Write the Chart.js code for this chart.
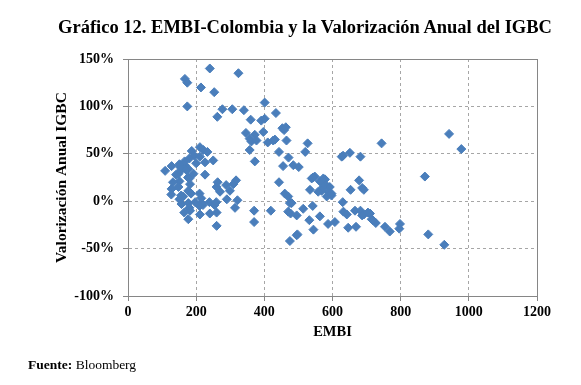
<!DOCTYPE html>
<html>
<head>
<meta charset="utf-8">
<script src="https://cdn.jsdelivr.net/npm/chart.js@4/dist/chart.umd.min.js"></script>
<style>
    body { margin: 0; background: #fff; }
    #wrap { position: relative; width: 581px; height: 385px; }
    #chartTitle {
        position: absolute; left: 0; top: 16px; width: 610px; text-align: center;
        font-family: "Liberation Serif", serif; font-weight: bold; font-size: 18.5px; line-height: 22px; color: #000;
    }
    #source {
        position: absolute; left: 28px; top: 357px;
        font-family: "Liberation Serif", serif; font-size: 13.5px; line-height: 16px; color: #000;
    }
</style>
</head>
<body>
<div id="wrap">
    <canvas id="embiChart" width="581" height="385"></canvas>
    <div id="chartTitle">Gráfico 12. EMBI-Colombia y la Valorización Anual del IGBC</div>
    <div id="source"><b>Fuente:</b> Bloomberg</div>
</div>
<script>
// EMBI (pb) and annual IGBC return (%)
const embi = [
    240, 324, 167, 174, 214, 253, 174, 277, 306, 262, 340, 401, 434, 360, 391, 401, 346, 357, 372, 362,
    377, 397, 410, 426, 431, 453, 458, 463, 465, 357, 443, 372, 471, 455, 485, 501,
    527, 520, 627, 631, 651, 682, 744, 942, 978, 871,
    187, 195, 211, 221, 233, 211, 250, 226, 109, 128, 153, 167, 177, 148, 192, 226, 200, 180, 166, 151,
    156, 171, 141, 176, 151, 180, 132, 128, 127, 148, 182, 177, 162, 156, 185, 151, 157, 177, 197, 216,
    210, 215, 220, 239, 254, 259, 180, 182, 177, 165, 211, 240, 260, 260, 210,
    260, 270, 299, 309, 317, 290, 321, 314, 263, 288, 370, 370, 419,
    443, 460, 470, 475, 477, 495, 475, 495, 470,
    539, 548, 563, 568, 578, 581, 573, 592, 587, 568, 583, 597, 597, 534, 558, 543, 573,
    653, 678, 692, 687,
    480, 514, 542, 532, 563, 544, 497,
    587, 607, 630, 632, 642, 646, 669, 666, 682, 692, 710, 715, 727, 754, 768, 798, 796, 687, 704, 718,
    881, 928
];
const valorizacion = [
    140, 135, 129, 125, 120, 115, 100, 97, 97, 89, 96, 104, 93, 86, 85, 87, 72, 66, 70, 63,
    64, 73, 62, 64, 65, 77, 75, 78, 64, 54, 52, 42, 46, 37, 38, 36,
    61, 52, 47, 48, 51, 47, 61, 71, 55, 26,
    53, 48, 57, 54, 52, 47, 43, 41, 32, 37, 36, 38, 34, 29, 29, 28, 40, 45, 42, 39,
    33, 33, 28, 25, 21, 24, 20, 13, 7, 15, 18, 11, 5, 6, 8, 2, -3, -2, -1, -2,
    8, 3, -4, -1, -4, -1, -7, -10, -19, -12, -14, -13, -12, -26, -5,
    15, 10, 11, 18, 22, 2, 1, -7, 20, 17, -10, -22, -10,
    20, 8, 5, -2, -13, -15, -42, -36, -11,
    24, 26, 21, 20, 23, 17, 15, 15, 10, 11, 5, 6, 8, 12, 10, 25, 24,
    12, 22, 12, 14,
    -2, -8, -5, -20, -16, -30, -35,
    -24, -22, -1, -11, -14, -28, -27, -10, -10, -14, -13, -19, -23, -27, -32, -24, -29, -15, -12, -20,
    -35, -46
];
const xTicks = [0, 200, 400, 600, 800, 1000, 1200];
const yTicks = [-100, -50, 0, 50, 100, 150];

const serif = 'Liberation Serif';
const markerColor = '#4a7ebb';

// solid frame round the plot area, like the Excel chart
const plotFrame = {
    id: 'plotFrame',
    beforeDatasetsDraw(chart) {
        const { ctx, chartArea: a } = chart;
        ctx.save();
        ctx.strokeStyle = '#868686';
        ctx.lineWidth = 1;
        ctx.strokeRect(Math.round(a.left) + 0.5, Math.round(a.top) + 0.5, Math.round(a.right - a.left), Math.round(a.bottom - a.top));
        ctx.restore();
    }
};

new Chart(document.getElementById('embiChart'), {
    type: 'scatter',
    data: {
        datasets: [{
            label: 'EMBI vs IGBC',
            data: embi.map((x, i) => ({ x: x, y: valorizacion[i] })),
            pointStyle: 'rectRot',
            pointRadius: 4.5,
            pointHoverRadius: 4.5,
            backgroundColor: markerColor,
            borderColor: markerColor,
            borderWidth: 1
        }]
    },
    options: {
        responsive: false,
        animation: false,
        layout: { padding: { left: 38, right: 44, top: 59, bottom: 41 } },
        plugins: {
            legend: { display: false },
            tooltip: { enabled: false }
        },
        scales: {
            x: {
                type: 'linear',
                min: 0, max: 1200,
                afterBuildTicks: (scale) => { scale.ticks = xTicks.map(v => ({ value: v })); },
                afterFit: (scale) => { scale.height = 48; },
                grid: { color: '#a6a6a6', tickLength: 5, tickColor: '#868686' },
                border: { color: '#868686', dash: [3, 3] },
                ticks: { color: '#000', padding: 3, maxRotation: 0, callback: v => String(v), font: { family: serif, size: 14, weight: 'bold' } },
                title: { display: true, text: 'EMBI', color: '#000', padding: { top: 2, bottom: 3 }, font: { family: serif, size: 14.5, weight: 'bold' } }
            },
            y: {
                type: 'linear',
                min: -100, max: 150,
                afterBuildTicks: (scale) => { scale.ticks = yTicks.map(v => ({ value: v })); },
                afterFit: (scale) => { scale.width = 90; },
                grid: { color: '#a6a6a6', tickLength: 5, tickColor: '#868686' },
                border: { color: '#868686', dash: [3, 3] },
                ticks: { color: '#000', padding: 9, callback: v => v + '%', font: { family: serif, size: 14, weight: 'bold' } },
                title: { display: true, text: 'Valorización Anual IGBC', color: '#000', padding: { top: 15, bottom: 2 }, font: { family: serif, size: 15.5, weight: 'bold' } }
            }
        }
    },
    plugins: [plotFrame]
});
</script>
</body>
</html>
